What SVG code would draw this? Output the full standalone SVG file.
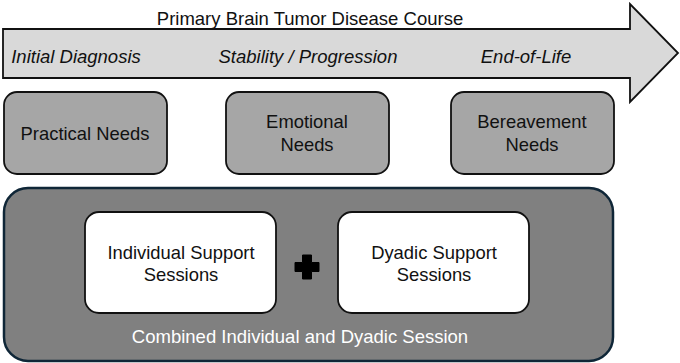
<svg xmlns="http://www.w3.org/2000/svg" width="680" height="363" viewBox="0 0 680 363">
<style>
text{font-family:"Liberation Sans",Arial,sans-serif;text-anchor:middle;}
.need{fill:#a6a6a6;stroke:#111;stroke-width:1.8;}
.sess{fill:#fff;stroke:#111;stroke-width:1.8;}
.t18{font-size:18.4px;fill:#111;}
.it{font-size:18.5px;font-style:italic;fill:#111;}
</style>
<rect width="680" height="363" fill="#fff"/>
<g id="course-arrow">
<path d="M3,29 H630 V4 L678,53 L630,102 V78 H3 Z" fill="#d9d9d9" stroke="#111" stroke-width="1.8" stroke-linejoin="miter"/>
<text x="310" y="25" font-size="18.5" fill="#111">Primary Brain Tumor Disease Course</text>
<text class="it" x="76" y="63">Initial Diagnosis</text>
<text class="it" x="308" y="63">Stability / Progression</text>
<text class="it" x="526" y="63">End-of-Life</text>
</g>
<g id="practical">
<rect class="need" x="4" y="92" width="163" height="82" rx="13"/>
<text class="t18" x="85" y="140">Practical Needs</text>
</g>
<g id="emotional">
<rect class="need" x="226" y="92" width="163" height="82" rx="13"/>
<text class="t18" x="307" y="128">Emotional</text>
<text class="t18" x="307" y="151">Needs</text>
</g>
<g id="bereavement">
<rect class="need" x="451" y="92" width="163" height="82" rx="13"/>
<text class="t18" x="532" y="128">Bereavement</text>
<text class="t18" x="532" y="151">Needs</text>
</g>
<g id="combined">
<rect x="4" y="188" width="609" height="173" rx="24" fill="#808080" stroke="#0f2637" stroke-width="2.5"/>
<text x="300" y="343" font-size="18.5" fill="#fff">Combined Individual and Dyadic Session</text>
</g>
<g id="individual">
<rect class="sess" x="85" y="212" width="191" height="101" rx="14"/>
<text class="t18" x="181" y="259">Individual Support</text>
<text class="t18" x="181" y="281">Sessions</text>
</g>
<g id="dyadic">
<rect class="sess" x="338" y="212" width="191" height="101" rx="14"/>
<text class="t18" x="434" y="259">Dyadic Support</text>
<text class="t18" x="434" y="281">Sessions</text>
</g>
<g id="connectors">
<path d="M302.5,255 h9 v7.5 h7.5 v9 h-7.5 v7.5 h-9 v-7.5 h-7.5 v-9 h7.5 z" fill="#000" stroke="#000" stroke-width="1" stroke-linejoin="round"/>
</g>
</svg>
